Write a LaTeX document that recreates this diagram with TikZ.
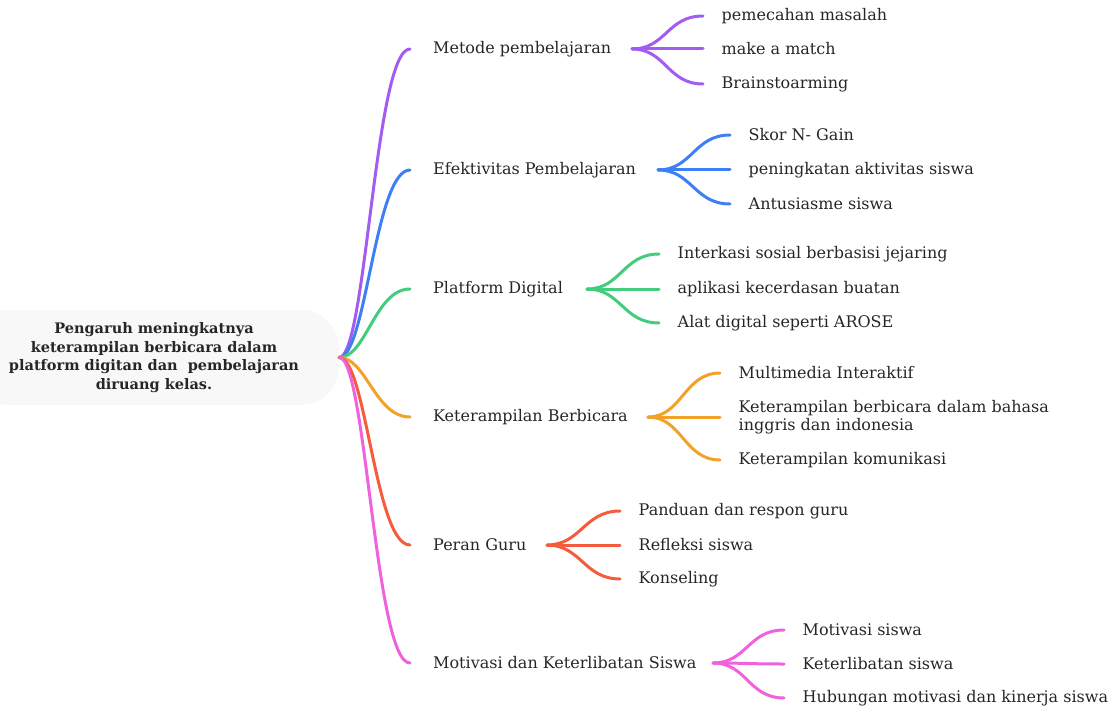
\documentclass[tikz,border=0pt]{standalone}
\usepackage{fontspec}
\setmainfont{DejaVu Serif}
\definecolor{cpurple}{HTML}{A35CF0}
\definecolor{cblue}{HTML}{3F7FF5}
\definecolor{cgreen}{HTML}{42CC7E}
\definecolor{corange}{HTML}{F2A229}
\definecolor{cred}{HTML}{F55C3D}
\definecolor{cpink}{HTML}{F062DD}
\definecolor{txt}{HTML}{262626}
\definecolor{rootbg}{HTML}{F8F8F9}
\tikzset{
  link/.style={line width=3pt, line cap=round},
  mainlbl/.style={anchor=west, inner xsep=23pt, inner ysep=0pt, text=txt, font=\fontsize{16}{18}\selectfont},
  childlbl/.style={anchor=west, inner xsep=18.5pt, inner ysep=0pt, text=txt, font=\fontsize{16}{18}\selectfont, align=left},
}
\begin{document}
\begin{tikzpicture}[x=1pt,y=-1pt]
\useasboundingbox (0,0) rectangle (1112,706);
% root
\node[fill=rootbg, rounded corners=38pt, minimum width=368pt, minimum height=95pt, inner sep=0pt] (rootbox) at (155,357.5) {};
\node[text=txt, align=center, font=\bfseries\fontsize{14.5}{18.5}\selectfont] (root) at (154,357.5) {Pengaruh meningkatnya\\keterampilan berbicara dalam\\platform digitan dan\ \ pembelajaran\\diruang kelas.};
\coordinate (hub) at (rootbox.east);

% main branches
\node[mainlbl] (m1) at (410,49) {Metode pembelajaran};
\node[mainlbl] (m2) at (410,170) {Efektivitas Pembelajaran};
\node[mainlbl] (m3) at (410,289) {Platform Digital};
\node[mainlbl] (m4) at (410,417) {Keterampilan Berbicara};
\node[mainlbl] (m5) at (410,545) {Peran Guru};
\node[mainlbl] (m6) at (410,663) {Motivasi dan Keterlibatan Siswa};

\foreach \m/\c in {m1/cpurple,m2/cblue,m3/cgreen,m4/corange,m5/cred,m6/cpink}{
  \draw[link, \c] (hub) .. controls +(27,0) and +(-35,0) .. (\m.west);
}

% child hubs
\coordinate (s1) at (632,49);
\coordinate (s2) at (658,170);
\coordinate (s3) at (587,289);
\coordinate (s4) at (648,417);
\coordinate (s5) at (547,545);
\coordinate (s6) at (713,663);

% children
\node[childlbl] (c11) at (703,16) {pemecahan masalah};
\node[childlbl] (c12) at (703,49) {make a match};
\node[childlbl] (c13) at (703,84) {Brainstoarming};

\node[childlbl] (c21) at (730,135) {Skor N- Gain};
\node[childlbl] (c22) at (730,170) {peningkatan aktivitas siswa};
\node[childlbl] (c23) at (730,204) {Antusiasme siswa};

\node[childlbl] (c31) at (659,254) {Interkasi sosial berbasisi jejaring};
\node[childlbl] (c32) at (659,289) {aplikasi kecerdasan buatan};
\node[childlbl] (c33) at (659,323) {Alat digital seperti AROSE};

\node[childlbl] (c41) at (720,373) {Multimedia Interaktif};
\node[childlbl] (c42) at (720,417) {Keterampilan berbicara dalam bahasa\\inggris dan indonesia};
\node[childlbl] (c43) at (720,460) {Keterampilan komunikasi};

\node[childlbl] (c51) at (620,511) {Panduan dan respon guru};
\node[childlbl] (c52) at (620,545) {Refleksi siswa};
\node[childlbl] (c53) at (620,579) {Konseling};

\node[childlbl] (c61) at (784,630) {Motivasi siswa};
\node[childlbl] (c62) at (784,664) {Keterlibatan siswa};
\node[childlbl] (c63) at (784,698) {Hubungan motivasi dan kinerja siswa};

\foreach \s/\c/\col in {s1/c11/cpurple,s1/c12/cpurple,s1/c13/cpurple,
  s2/c21/cblue,s2/c22/cblue,s2/c23/cblue,
  s3/c31/cgreen,s3/c32/cgreen,s3/c33/cgreen,
  s4/c41/corange,s4/c42/corange,s4/c43/corange,
  s5/c51/cred,s5/c52/cred,s5/c53/cred,
  s6/c61/cpink,s6/c62/cpink,s6/c63/cpink}{
  \draw[link, \col] (\s) .. controls +(34,0) and +(-36,0) .. (\c.west);
}
\end{tikzpicture}
\end{document}
